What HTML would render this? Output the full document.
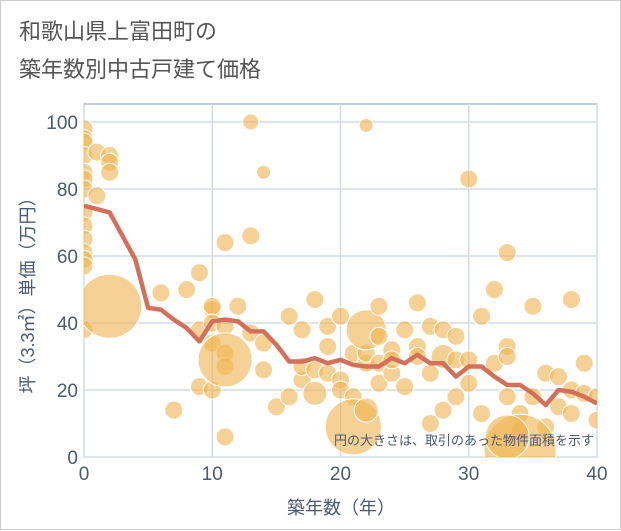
<!DOCTYPE html>
<html><head><meta charset="utf-8"><style>
body{margin:0;background:#fff;}
#wrap{position:relative;width:619px;height:528px;border:1px solid #ccc;background:#fff;font-family:"Liberation Sans","Noto Sans CJK JP",sans-serif;}
.t{position:absolute;left:18px;color:#555;font-size:22px;}
</style></head><body>
<div id="wrap">
<div class="t" style="top:13px">和歌山県上富田町の</div>
<div class="t" style="top:51px">築年数別中古戸建て価格</div>
<svg id="chart" width="621" height="530" style="position:absolute;left:0;top:0"></svg>
</div>
<script>
const years=[0,1,2,3,4,5,6,7,8,9,10,11,12,13,14,15,16,17,18,19,20,21,22,23,24,25,26,27,28,29,30,31,32,33,34,35,36,37,38,39,40];
const avgPrice=[75,74,73,66,59,44.5,44,41,38.5,34.5,40.5,41,40.5,37.5,37.5,33.5,28.5,28.5,29.5,28,29,27.5,27,27,29.5,28,30.5,28,28,24,27,27,24,21.5,21.5,19,15.5,20,19.5,18,16];
const bubbleAge=[0,0,0,0,0,0,0,0,0,0,0,0,0,0,1,1,2,2,2,2,7,6,8,9,9,9,10,10,10,10,10,11,11,11,11,11,12,13,13,13,14,14,14,15,16,16,17,17,17,18,18,18,19,19,19,20,20,20,21,21,22,22,22,22,23,23,23,23,24,24,24,25,25,26,26,26,27,27,27,28,28,28,29,29,29,30,30,30,31,31,32,32,33,33,33,33,34,34,35,35,36,36,37,37,38,38,38,39,39,40,40,11,21,22,34,33];
const bubblePrice=[98,95,94,90,85,83,80,73,69,65,61,59,57,38,91,78,90,88,85,45,14,49,50,55,38,21,44,45,40,34,20,64,39,31,27,6,45,100,66,37,85,34,26,15,18,42,38,23,27,47,26,19,25,33,39,42,23,20,31,18,99,28,31,38,45,36,22,28,25,32,29,38,21,46,33,30,39,25,10,38,30,14,29,18,36,83,29,22,42,13,50,28,33,61,30,18,13,8,45,18,25,9,24,15,47,20,13,28,19,18,11,29,9,14,2,6];
const bubbleSize=[9,9,9,9,9,9,9,9,9,9, 9,9,9,9,9,9,9,9,9,32, 9,9,9,9,9,9,9,9,9,9, 9,9,9,9,9,9,9,8,9,9, 7,9,9,9,9,9,9,9,9,9, 9,12,9,9,9,9,9,9,9,9, 7,9,9,20,9,9,9,9,9,9, 9,9,9,9,9,9,9,9,9,9, 12,9,9,9,9,9,9,9,9,9, 9,9,9,9,9,9,9,9,9,9, 9,9,9,9,9,9,9,9,9,9, 9, 27,28,12,36,22];
const xTicks=[0,10,20,30,40];
const yTicks=[0,20,40,60,80,100];
const NS='http://www.w3.org/2000/svg';
const svg=document.getElementById('chart');
const L=83,R=596,T=103,B=456;
const xs=v=>L+(v/40)*(R-L);
const ys=v=>456-v*3.35;
function mk(tag,attrs,parent){const e=document.createElementNS(NS,tag);for(const k in attrs)e.setAttribute(k,attrs[k]);(parent||svg).appendChild(e);return e;}
const frame=mk('rect',{x:L,y:T,width:R-L,height:B-T,fill:'#fff',stroke:'#8a97a6','stroke-width':1});


yTicks.forEach(v=>{
 const g=mk('line',{x1:L,x2:R,y1:ys(v),y2:ys(v),stroke:'#d3dce6','stroke-width':1.5});
 
 
 const t=mk('text',{x:L-6,y:ys(v)+7,'text-anchor':'end','font-size':19,fill:'#4a5a70'});
 t.textContent=v;
 
 
});
xTicks.forEach(v=>{
 const g=mk('line',{x1:xs(v),x2:xs(v),y1:T,y2:B,stroke:'#d3dce6','stroke-width':1.5});
 
 
 const t=mk('text',{x:xs(v),y:B+23,'text-anchor':'middle','font-size':19,fill:'#4a5a70'});
 t.textContent=v;
 
 
});
const clip=mk('clipPath',{id:'pc'});mk('rect',{x:L,y:T,width:R-L,height:B-T},clip);
const bg=mk('g',{'clip-path':'url(#pc)'});
bubbleAge.forEach((a,i)=>{
 const c=mk('circle',{cx:xs(a),cy:ys(bubblePrice[i]),r:bubbleSize[i],fill:'#f0b24e','fill-opacity':0.6,stroke:'#fff','stroke-width':1},bg);
 
 
});
const line=mk('polyline',{points:years.map((y,i)=>xs(y)+','+ys(avgPrice[i])).join(' '),fill:'none',stroke:'#d4705a','stroke-width':4.5,'stroke-linejoin':'round'},bg);


const note=mk('text',{x:593,y:444,'text-anchor':'end','font-size':13,fill:'#4a5a70'});
note.textContent='円の大きさは、取引のあった物件面積を示す';


const xt=mk('text',{x:340,y:513,'text-anchor':'middle','font-size':18,fill:'#4a5a70'});
xt.textContent='築年数（年）';


const yt=mk('text',{x:0,y:0,'text-anchor':'middle','font-size':18,fill:'#4a5a70',transform:'translate(33,290) rotate(-90)'});
yt.textContent='坪（3.3㎡）単価（万円）';


</script>
</body></html>
